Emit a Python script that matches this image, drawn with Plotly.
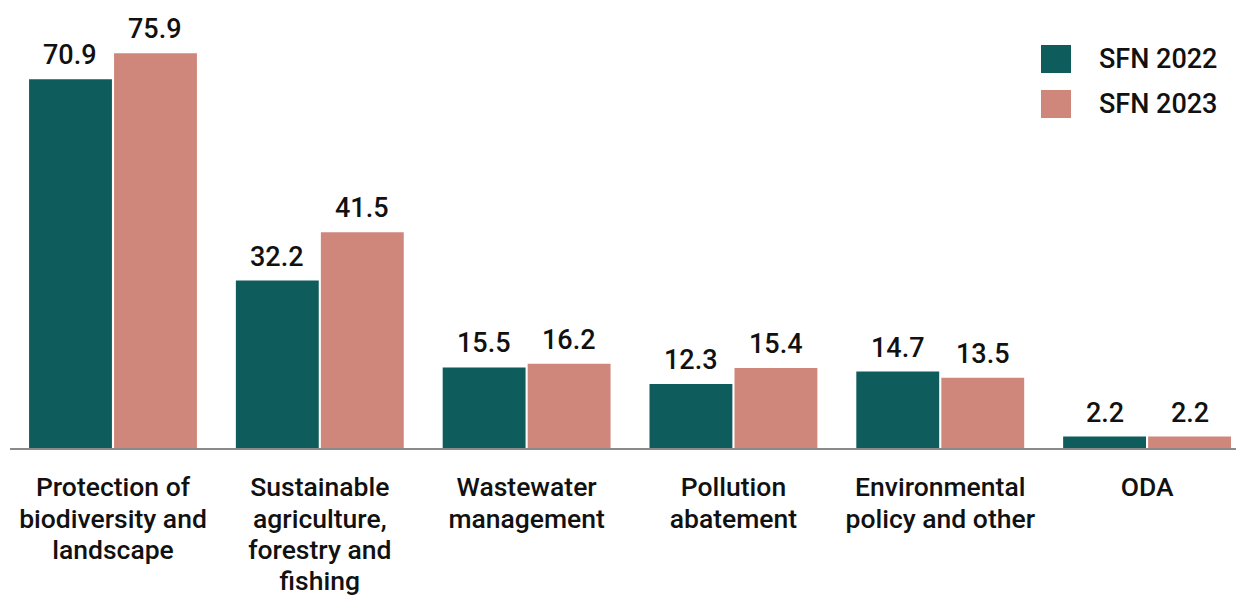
import plotly.graph_objects as go

categories = [
    "Protection of<br>biodiversity and<br>landscape",
    "Sustainable<br>agriculture,<br>forestry and<br>fishing",
    "Wastewater<br>management",
    "Pollution<br>abatement",
    "Environmental<br>policy and other",
    "ODA",
]
sfn_2022 = [70.9, 32.2, 15.5, 12.3, 14.7, 2.2]
sfn_2023 = [75.9, 41.5, 16.2, 15.4, 13.5, 2.2]
series_names = ["SFN 2022", "SFN 2023"]
colors = ["#0f5c5c", "#d0877b"]

FONT = "Roboto"
BARGAP = 0.178
slot = (1 - BARGAP) / 2
offsets = [-slot / 2, slot / 2]

fig = go.Figure()
xs = list(range(len(categories)))
for name, vals, col, off in zip(series_names, [sfn_2022, sfn_2023], colors, offsets):
    fig.add_trace(go.Bar(
        x=xs, y=vals, name=name,
        marker=dict(color=col, line=dict(width=0)),
        showlegend=False, hoverinfo="skip",
    ))
    for x, v in zip(xs, vals):
        fig.add_annotation(x=x + off, y=v, xref="x", yref="y", text=f"{v:.1f}",
                           showarrow=False, yanchor="middle", yshift=24,
                           font=dict(family=FONT, size=27, color="#111111", weight=500))

# custom legend (large square swatches)
PT, PH, PL, PW = 10, 438, 10, 1226
for i, (name, col) in enumerate(zip(series_names, colors)):
    y0 = 45 + i * 45
    fig.add_shape(type="rect", xref="paper", yref="paper",
                  x0=(1041 - PL) / PW, x1=(1071 - PL) / PW,
                  y0=1 - (y0 + 28 - PT) / PH, y1=1 - (y0 - PT) / PH,
                  fillcolor=col, line=dict(width=0))
    fig.add_annotation(xref="paper", yref="paper",
                       x=(1097 - PL) / PW, y=1 - (y0 + 14 - PT) / PH,
                       text=name, showarrow=False, xanchor="left", yanchor="middle",
                       font=dict(family=FONT, size=27, color="#111111", weight=500))

# tick labels: glyphs at 26.5px, line spacing based on 24.2px
ticktext = ["<br>".join(f"<span style='font-size:26.5px'>{ln}</span>" for ln in c.split("<br>"))
            for c in categories]

fig.update_layout(
    width=1236, height=595,
    margin=dict(l=PL, r=0, t=PT, b=595 - PT - PH),
    paper_bgcolor="white", plot_bgcolor="white",
    barmode="group", bargap=BARGAP, bargroupgap=0.025,
    font=dict(family=FONT, size=26, color="#111111", weight=500),
    xaxis=dict(
        tickmode="array", tickvals=xs, ticktext=ticktext,
        range=[-0.498, 5.43], showgrid=False, zeroline=False,
        showline=True, linecolor="#8a8a8a", linewidth=2, ticks="",
        tickfont=dict(family=FONT, size=24.2, color="#111111", weight=500),
        tickangle=0, automargin=False, ticklabelstandoff=17,
    ),
    yaxis=dict(range=[0, PH / 5.2], visible=False, showgrid=False,
               zeroline=False, automargin=False),
)

fig.write_html("out.html", config={"displayModeBar": False},
               post_script="document.body.style.margin='0';")
